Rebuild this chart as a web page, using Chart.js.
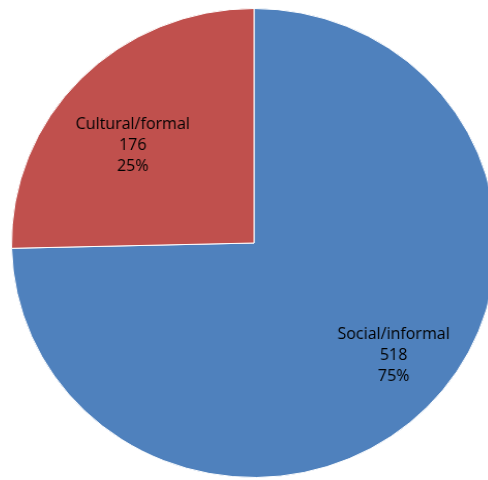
<!DOCTYPE html>
<html lang="en">
  <head>
    <meta charset="UTF-8" />
    <title>Social vs cultural</title>
    <script src="https://cdn.jsdelivr.net/npm/chart.js@4.4.0/dist/chart.umd.min.js"></script>
    <style>
      html, body { margin: 0; padding: 0; background: #fff; overflow: hidden; }
      body { width: 488px; height: 480px; position: relative; }
      #wrap {
        position: absolute;
        left: 19px;
        top: 8px;
        width: 470px;
        height: 470px;
        transform: scaleX(1.034);
        transform-origin: 235px 235px;
      }
    </style>
  </head>
  <body>
    <div id="wrap">
      <canvas id="pie" width="470" height="470"></canvas>
    </div>
    <script>
      const categories = ['Social/informal', 'Cultural/formal'];
      const counts = [518, 176];
      const percentLabels = ['75%', '25%'];
      const colors = ['#4F81BD', '#C0504D'];

      // dibuja las etiquetas dentro de cada sector
      const sliceLabels = {
        id: 'sliceLabels',
        afterDatasetsDraw(chart) {
          const ctx = chart.ctx;
          const meta = chart.getDatasetMeta(0);
          const total = counts.reduce((a, b) => a + b, 0);
          ctx.save();
          ctx.font = '15.5px "Open Sans", sans-serif';
          ctx.fillStyle = '#000';
          ctx.textAlign = 'center';
          ctx.textBaseline = 'middle';
          meta.data.forEach((arc, i) => {
            const p = arc.getProps(['x', 'y', 'startAngle', 'endAngle', 'outerRadius']);
            const mid = (p.startAngle + p.endAngle) / 2 - 0.08;
            const r = p.outerRadius * (0.6 + 0.2 * counts[i] / total);
            const cx = p.x + Math.cos(mid) * r;
            const cy = p.y + Math.sin(mid) * r;
            const lines = [categories[i], String(counts[i]), percentLabels[i]];
            lines.forEach((t, j) => ctx.fillText(t, cx, cy + (j - 1) * 21));
          });
          ctx.restore();
        },
      };

      new Chart(document.getElementById('pie'), {
        type: 'pie',
        data: {
          labels: categories,
          datasets: [
            {
              data: counts,
              backgroundColor: colors,
              borderColor: '#ffffff',
              borderWidth: 1,
            },
          ],
        },
        options: {
          responsive: false,
          animation: false,
          layout: { padding: 0 },
          plugins: {
            legend: { display: false },
            tooltip: { enabled: false },
          },
        },
        plugins: [sliceLabels],
      });
    </script>
  </body>
</html>
